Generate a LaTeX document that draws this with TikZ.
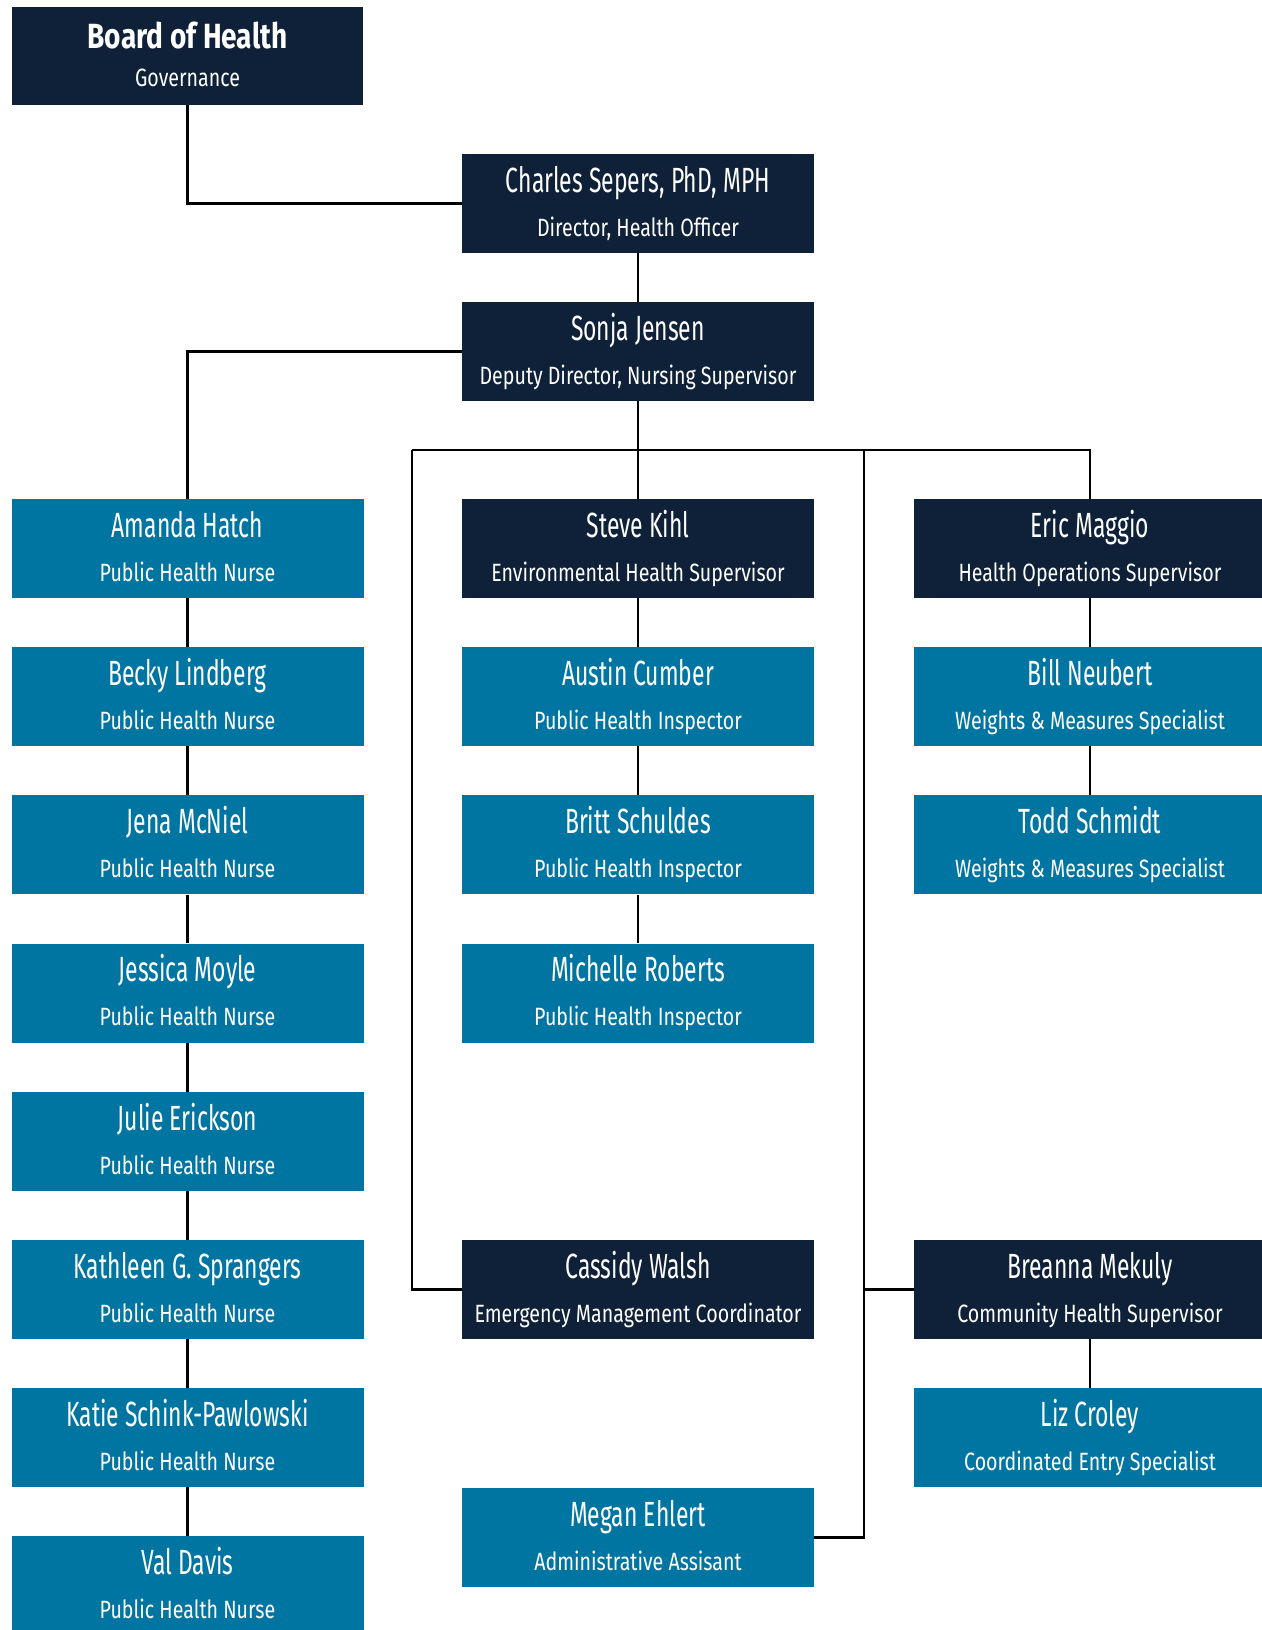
\documentclass[tikz,border=0pt]{standalone}
\usepackage{fontspec}
\newfontfamily\namefont[FakeStretch=0.655]{Fira Sans}
\newfontfamily\boldnamefont[FakeStretch=0.80]{Fira Sans Bold}
\newfontfamily\titlefont[FakeStretch=0.785]{Fira Sans}
\definecolor{navyc}{RGB}{15,33,56}
\definecolor{tealc}{RGB}{0,117,162}
\tikzset{
  darkbox/.style={rectangle, fill=navyc, minimum width=352pt, minimum height=99pt, inner sep=0pt},
  bluebox/.style={rectangle, fill=tealc, minimum width=352pt, minimum height=99pt, inner sep=0pt},
  nm/.style={text=white, inner sep=0pt, anchor=base, font=\namefont\fontsize{35}{38}\selectfont},
  tt/.style={text=white, inner sep=0pt, anchor=base, font=\titlefont\fontsize{25}{28}\selectfont},
  conn/.style={line width=2.7pt, black}
}
\newcommand\orgbox[6]{%
  \node[#2] (#1) at (#3,{-(#4)-49.5}) {};
  \node[nm] (#1-n) at ([yshift=-38.5pt]#1.north) {#5};
  \node[tt] (#1-t) at ([yshift=-82.5pt]#1.north) {#6};
}
\begin{document}
\begin{tikzpicture}[x=1pt,y=1pt]
\useasboundingbox (0,0) rectangle (1261,-1630);
% boxes
\node[darkbox, minimum width=351pt, minimum height=98pt] (board) at (187.5,-56) {};
\node[nm, font=\boldnamefont\fontsize{35}{38}\selectfont] (board-n) at ([yshift=-42pt]board.north) {Board of Health};
\node[tt] (board-t) at ([yshift=-80pt]board.north) {Governance};
\orgbox{charles}{darkbox}{638}{154}{Charles Sepers, PhD, MPH}{Director, Health Officer}
\orgbox{sonja}{darkbox}{638}{302}{Sonja Jensen}{Deputy Director, Nursing Supervisor}
% left column
\orgbox{amanda}{bluebox}{187.5}{499}{Amanda Hatch}{Public Health Nurse}
\orgbox{becky}{bluebox}{187.5}{647.2}{Becky Lindberg}{Public Health Nurse}
\orgbox{jena}{bluebox}{187.5}{795.4}{Jena McNiel}{Public Health Nurse}
\orgbox{jessica}{bluebox}{187.5}{943.6}{Jessica Moyle}{Public Health Nurse}
\orgbox{julie}{bluebox}{187.5}{1091.8}{Julie Erickson}{Public Health Nurse}
\orgbox{kathleen}{bluebox}{187.5}{1240}{Kathleen G. Sprangers}{Public Health Nurse}
\orgbox{katie}{bluebox}{187.5}{1388.2}{Katie Schink-Pawlowski}{Public Health Nurse}
\orgbox{val}{bluebox}{187.5}{1536.4}{Val Davis}{Public Health Nurse}
% middle column
\orgbox{steve}{darkbox}{638}{499}{Steve Kihl}{Environmental Health Supervisor}
\orgbox{austin}{bluebox}{638}{647.2}{Austin Cumber}{Public Health Inspector}
\orgbox{britt}{bluebox}{638}{795.4}{Britt Schuldes}{Public Health Inspector}
\orgbox{michelle}{bluebox}{638}{943.6}{Michelle Roberts}{Public Health Inspector}
\orgbox{cassidy}{darkbox}{638}{1240}{Cassidy Walsh}{Emergency Management Coordinator}
\orgbox{megan}{bluebox}{638}{1488}{Megan Ehlert}{Administrative Assisant}
% right column
\orgbox{eric}{darkbox}{1090}{499}{Eric Maggio}{Health Operations Supervisor}
\orgbox{bill}{bluebox}{1090}{647.2}{Bill Neubert}{Weights \& Measures Specialist}
\orgbox{todd}{bluebox}{1090}{795.4}{Todd Schmidt}{Weights \& Measures Specialist}
\orgbox{breanna}{darkbox}{1090}{1240}{Breanna Mekuly}{Community Health Supervisor}
\orgbox{liz}{bluebox}{1090}{1388.2}{Liz Croley}{Coordinated Entry Specialist}
% bus coordinates
\coordinate (busL) at (412,-450);
\coordinate (busM) at (864,-450);
\coordinate (busR) at (eric.north |- busL);
% connectors
\draw[conn] (board.south) |- (charles.west);
\draw[conn] (charles.south) -- (sonja.north);
\draw[conn] (sonja.west) -| (amanda.north);
\draw[conn] (sonja.south) -- (steve.north);
\draw[conn] (busL) -- (busR) -- (eric.north);
\draw[conn] (busL) |- (cassidy.west);
\draw[conn] (busM) |- (megan.east);
\draw[conn] (busM |- breanna.west) -- (breanna.west);
\draw[conn] (amanda.south) -- (becky.north);
\draw[conn] (becky.south) -- (jena.north);
\draw[conn] (jena.south) -- (jessica.north);
\draw[conn] (jessica.south) -- (julie.north);
\draw[conn] (julie.south) -- (kathleen.north);
\draw[conn] (kathleen.south) -- (katie.north);
\draw[conn] (katie.south) -- (val.north);
\draw[conn] (steve.south) -- (austin.north);
\draw[conn] (austin.south) -- (britt.north);
\draw[conn] (britt.south) -- (michelle.north);
\draw[conn] (eric.south) -- (bill.north);
\draw[conn] (bill.south) -- (todd.north);
\draw[conn] (breanna.south) -- (liz.north);
\end{tikzpicture}
\end{document}
